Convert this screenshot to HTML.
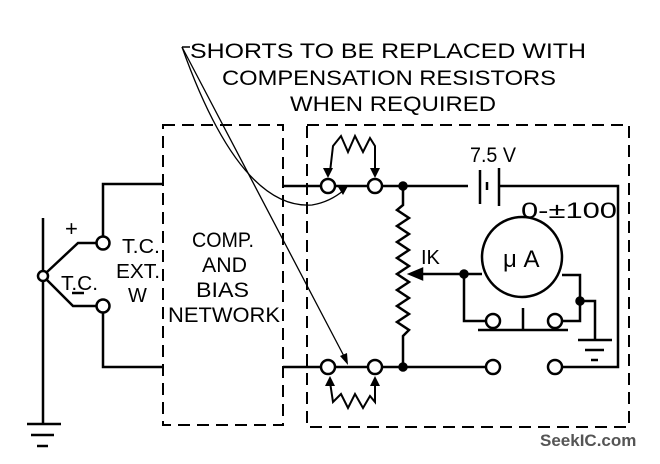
<!DOCTYPE html>
<html><head><style>body{margin:0;background:#fff}svg{display:block}</style></head><body>
<svg width="660" height="464" viewBox="0 0 660 464" xmlns="http://www.w3.org/2000/svg" font-family="Liberation Sans, sans-serif" fill="none" stroke="#000" stroke-width="2.5">
<g fill="#000" stroke="none" font-size="21">
<text x="190" y="58" textLength="396" lengthAdjust="spacingAndGlyphs">SHORTS TO BE REPLACED WITH</text>
<text x="222" y="85" textLength="334" lengthAdjust="spacingAndGlyphs">COMPENSATION RESISTORS</text>
<text x="290" y="111" textLength="206" lengthAdjust="spacingAndGlyphs">WHEN REQUIRED</text>
<text x="192" y="247" font-size="21" textLength="62" lengthAdjust="spacingAndGlyphs">COMP.</text>
<text x="202" y="272" font-size="21" textLength="45" lengthAdjust="spacingAndGlyphs">AND</text>
<text x="196" y="297" font-size="21" textLength="53" lengthAdjust="spacingAndGlyphs">BIAS</text>
<text x="168" y="322" font-size="21" textLength="112" lengthAdjust="spacingAndGlyphs">NETWORK</text>
<text x="122" y="253" font-size="20" textLength="38" lengthAdjust="spacingAndGlyphs">T.C.</text>
<text x="116" y="278" font-size="20" textLength="44" lengthAdjust="spacingAndGlyphs">EXT.</text>
<text x="128" y="302" font-size="20">W</text>
<text x="61" y="290" font-size="20" textLength="37" lengthAdjust="spacingAndGlyphs">T.C.</text>
<text x="65" y="236" font-size="22">+</text>
<text x="470" y="162" font-size="21" textLength="46" lengthAdjust="spacingAndGlyphs">7.5 V</text>
<text x="521" y="218" font-size="22" textLength="96" lengthAdjust="spacingAndGlyphs">0-±100</text>
<text x="421" y="264" font-size="20">IK</text>
<text x="503" y="267" font-size="24">μ A</text>
<text x="540" y="446" font-size="17" font-weight="bold" fill="#555">SeekIC.com</text>
</g>
<g stroke-dasharray="12,7" stroke-width="2">
<rect x="163" y="125" width="120" height="300"/>
<rect x="307" y="125" width="322" height="302"/>
</g>
<line x1="72" y1="293" x2="84" y2="293"/>
<polyline points="163,184 103,184 103,236"/>
<polyline points="163,367 103,367 103,313"/>
<circle cx="103" cy="243" r="6.5" fill="#fff"/>
<circle cx="103" cy="306" r="6.5" fill="#fff"/>
<polyline points="96,243 78,243 47,272"/>
<polyline points="96,306 73,306 47,280"/>
<line x1="43" y1="218" x2="43" y2="424"/>
<circle cx="43" cy="276" r="5" fill="#fff"/>
<line x1="27" y1="424" x2="61" y2="424"/><line x1="31" y1="435" x2="54" y2="435"/><line x1="37" y1="446" x2="48" y2="446"/>
<line x1="283" y1="186" x2="321" y2="186"/>
<line x1="335" y1="186" x2="368" y2="186"/>
<line x1="382" y1="186" x2="468" y2="186"/>
<circle cx="328" cy="186" r="7" fill="#fff"/><circle cx="375" cy="186" r="7" fill="#fff"/>
<line x1="480" y1="170" x2="480" y2="204"/><line x1="487" y1="182" x2="487" y2="190"/><line x1="499" y1="168" x2="499" y2="206"/>
<polyline points="499,186 618,186 618,367 562,367"/>
<line x1="283" y1="367" x2="321" y2="367"/>
<line x1="335" y1="367" x2="368" y2="367"/>
<line x1="382" y1="367" x2="486" y2="367"/>
<circle cx="328" cy="367" r="7" fill="#fff"/><circle cx="375" cy="367" r="7" fill="#fff"/>
<circle cx="493" cy="367" r="7" fill="#fff"/><circle cx="555" cy="367" r="7" fill="#fff"/>
<polyline points="403,186 403,205 397,210 409,218 397,226 409,234 397,242 409,250 397,258 409,266 397,274 409,282 397,290 409,298 397,306 409,314 397,322 409,330 403,336 403,367"/>
<circle cx="403" cy="186" r="3.5" fill="#000"/><circle cx="403" cy="367" r="3.5" fill="#000"/>
<line x1="464" y1="274" x2="412" y2="274"/><path d="M410,274 l12,-5 v10z" fill="#000"/>
<circle cx="522" cy="257" r="40"/>
<polyline points="562,275 580,275 580,321 562,321"/>
<polyline points="464,274 482,274"/>
<polyline points="464,274 464,321 486,321"/>
<circle cx="464" cy="274" r="3.5" fill="#000"/><circle cx="580" cy="301" r="3.5" fill="#000"/>
<circle cx="493" cy="321" r="7" fill="#fff"/><circle cx="555" cy="321" r="7" fill="#fff"/>
<line x1="478" y1="330" x2="568" y2="330"/><line x1="523" y1="308" x2="523" y2="330"/>
<polyline points="580,301 595,301 595,340"/>
<line x1="578" y1="340" x2="612" y2="340"/><line x1="585" y1="350" x2="604" y2="350"/><line x1="591" y1="360" x2="598" y2="360"/>
<polyline stroke-width="2" points="330,172 333,146 341,136 348,152 355,136 363,152 370,138 375,146 375,172"/>
<path d="M328,178 l-5,-10 h10z M375,178 l-5,-10 h10z" fill="#000" stroke="none"/>
<polyline stroke-width="2" points="330,382 333,402 341,394 348,408 355,394 363,408 370,396 375,402 375,382"/>
<path d="M330,376 l-5,10 h10z M375,376 l-5,10 h10z" fill="#000" stroke="none"/>
<path stroke-width="1.3" d="M182,47 Q240,210 312,205 Q330,202 344,190"/>
<path d="M348,186 l-10,1 l5,8z" fill="#000" stroke="none"/>
<line stroke-width="1.3" x1="182" y1="47" x2="346" y2="360"/>
<path d="M348,365 l-8,-9 l7,-3z" fill="#000" stroke="none"/>
<line stroke-width="1.5" x1="182" y1="47" x2="190" y2="47"/>
</svg>
</body></html>
